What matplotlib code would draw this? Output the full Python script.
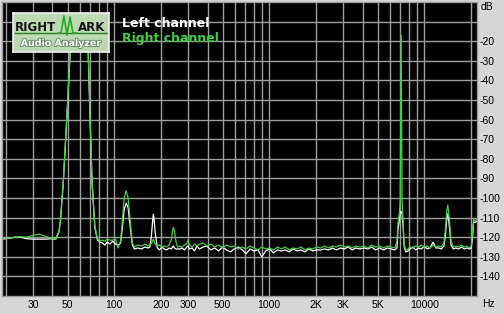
import matplotlib
matplotlib.use("Agg")
import matplotlib.pyplot as plt
import matplotlib.patheffects as pe

# frequency grid (Hz) shared by both channels, one row per stretch of the spectrum
freq = (
    [19, 21, 23, 25, 27.5, 30, 33, 36, 39, 42]
    + [44, 45, 47, 50, 52, 55, 58, 61, 64, 66]
    + [68, 70, 72, 75, 78, 81, 84, 87, 90, 94]
    + [98, 102, 106, 110, 113, 116, 119.5, 123, 127, 131]
    + [135, 142, 150, 158, 165, 170, 174, 177, 179, 181, 184]
    + [190, 196, 203, 210, 218, 226, 234, 238, 241, 245, 250, 256]
    + [265, 274, 284, 294, 300, 306, 318, 330, 342, 355]
    + [375, 397, 420, 445, 472, 500, 530, 562, 596, 632]
    + [670, 710, 752, 797, 845, 896, 950, 1007, 1067, 1131]
    + [1199, 1271, 1347, 1428, 1514, 1605, 1701, 1803, 1911, 2026]
    + [2148, 2277, 2414, 2559, 2713, 2876, 3049, 3232, 3426, 3632]
    + [3850, 4081, 4326, 4586, 4861, 5153, 5462, 5790, 6138, 6470]
    + [6670, 6770, 6900, 7000, 7100, 7200, 7300, 7430, 7600, 7850]
    + [8100, 8450, 8800, 9200, 9600, 10000, 10450, 10900, 11400, 11900]
    + [12400, 12900, 13400, 13700, 14000, 14200, 14500, 14900, 15400, 16000]
    + [16700, 17400, 18100, 18800, 19500, 20100, 20500, 20800, 21200, 21700]
    + [22200, 22800]
)

right_db = (
    [-121, -120.5, -120, -119.8, -120, -119, -118.5, -119.5, -120.5, -121]
    + [-117, -111, -91, -52, -25, -13, -9, -9, -12, -16]
    + [-25, -60, -91, -114, -121, -122, -121.5, -122, -121, -121.5]
    + [-121.5, -121, -125.5, -122, -111, -100, -96.3, -100, -112, -123]
    + [-125, -124, -124.5, -123.5, -124.5, -124, -123, -122, -121, -122, -123.5]
    + [-124.5, -124, -125, -124.5, -125, -124, -121, -117, -115, -117, -122, -125]
    + [-124.5, -125, -124, -123, -121.5, -124, -125, -123.5, -124.5, -123.5]
    + [-123, -124.5, -123.5, -125, -124, -125.5, -124, -125, -124.5, -126]
    + [-125, -126, -124.5, -125.5, -126.5, -125, -126, -125.5, -126.5, -125]
    + [-126, -125, -126.5, -125.5, -126, -125, -126.5, -125.5, -126, -125]
    + [-125.5, -124.5, -125.5, -124.5, -125, -124, -125, -124.5, -125.5, -124.5]
    + [-125, -124.5, -125.5, -124, -125, -124.5, -125.5, -124.5, -125, -125.5]
    + [-122, -113, -108, -101, -17, -102, -112, -124, -126.5, -126]
    + [-125, -125.5, -124.5, -125, -124, -125, -124.5, -125.5, -124, -125]
    + [-124.5, -125, -123, -116, -106, -103.6, -110, -122, -125, -124.5]
    + [-125, -124, -125, -124.5, -125.5, -124.5, -118, -111, -111.5, -111]
    + [-111.5, -112]
)

left_db = (
    [-121, -120.5, -120, -120, -120.8, -121, -121, -121, -120.8, -121]
    + [-117.5, -112, -92, -53, -26, -14, -10, -10, -13, -17]
    + [-26, -61, -92, -115, -121.5, -122.5, -123, -124, -122.5, -123.5]
    + [-122, -123.5, -124, -123, -115, -106, -102.6, -105, -115, -124]
    + [-126, -125.5, -126, -125, -125.5, -125, -119, -112, -108.3, -111, -118]
    + [-125.5, -126.5, -125, -126, -126.5, -125.5, -126, -125, -124.5, -125.5, -126, -126]
    + [-126, -125.5, -126.5, -125, -124.5, -126, -125.5, -127, -124.5, -126]
    + [-125, -124.5, -126.5, -125.5, -127, -125, -126.5, -127.5, -126, -125]
    + [-126.5, -128.5, -126, -127, -126.5, -130, -127, -126, -128, -126.5]
    + [-127, -126.5, -127.5, -126, -127, -126.5, -127.5, -126, -127, -126.5]
    + [-126.5, -126, -126.5, -125.5, -126.5, -125.5, -126, -125, -126.5, -125.5]
    + [-126, -125.5, -126, -125, -126.5, -125.5, -126.5, -125.5, -126, -126.5]
    + [-125.5, -116, -112, -107, -107, -108, -114, -125, -127.5, -127]
    + [-126, -125, -126.5, -125.5, -126, -124.5, -126, -125.5, -122.5, -125.5]
    + [-125.5, -126, -124.5, -119, -110, -108, -114, -124, -126, -125.5]
    + [-126, -125, -126, -125.5, -126, -125.5, -120, -112, -112.5, -112]
    + [-112, -112.5]
)

x_major = [30, 50, 100, 200, 300, 500, 1000, 2000, 3000, 5000, 10000]
x_labels = ["30", "50", "100", "200", "300", "500", "1000", "2K", "3K", "5K", "10000"]
x_minor = [20, 40, 60, 70, 80, 90, 400, 600, 700, 800, 900,
           4000, 6000, 7000, 8000, 9000, 20000]
y_ticks = [-140, -130, -120, -110, -100, -90, -80, -70, -60, -50, -40, -30, -20, -10]

W, H = 504, 314
BG = "#d6d6d6"
GRID = "#9c9c9c"
GREEN = "#3fd03f"
TICK_FONT = "Liberation Sans"

fig = plt.figure(figsize=(W / 100, H / 100), dpi=100, facecolor=BG)
ax = fig.add_axes([2 / W, 1 - 296 / H, 475 / W, 294 / H], facecolor="black")

ax.set_xscale("log")
ax.set_xlim(18.9, 21900)
ax.set_ylim(-150, 0)

ax.set_xticks(x_major)
ax.set_xticklabels(x_labels)
ax.set_xticks(x_minor, minor=True)
ax.set_xticklabels([], minor=True)
ax.set_yticks(y_ticks)
ax.set_yticklabels(["" if v == -10 else str(v) for v in y_ticks])
ax.yaxis.tick_right()

ax.tick_params(axis="both", which="both", length=0, labelsize=7.5)
ax.tick_params(axis="x", pad=3)
ax.tick_params(axis="y", pad=2)
for lab in ax.get_xticklabels() + ax.get_yticklabels():
    lab.set_family(TICK_FONT)

ax.grid(True, which="both", color=GRID, linewidth=1.0)
ax.set_axisbelow(True)
for s in ax.spines.values():
    s.set_color(GRID)
    s.set_linewidth(1.0)

ax.plot(freq, left_db, color="white", linewidth=0.9)
ax.plot(freq, right_db, color=GREEN, linewidth=0.9)

fig.text(481 / W, 1 - 7 / H, "dB", fontsize=7.5, family=TICK_FONT, va="center", ha="left")
fig.text(488 / W, 1 - 304 / H, "Hz", fontsize=7.5, family=TICK_FONT, va="center", ha="center")

# legend text
fig.text(122 / W, 1 - 26.7 / H, "Left channel", color="white", fontsize=9, fontweight="bold",
         va="baseline", ha="left")
fig.text(122 / W, 1 - 41.7 / H, "Right channel", color=GREEN, fontsize=9, fontweight="bold",
         va="baseline", ha="left")

# RightMark logo
lx0, ly0, lx1, ly1 = 13, 13, 109, 52
logo = fig.add_axes([lx0 / W, 1 - ly1 / H, (lx1 - lx0) / W, (ly1 - ly0) / H], facecolor="#bcd9b3")
logo.set_xlim(lx0, lx1)
logo.set_ylim(ly1, ly0)
logo.set_xticks([])
logo.set_yticks([])
for s in logo.spines.values():
    s.set_color("#f0f0f0")
    s.set_linewidth(1.2)
logo.text(15, 31, "RIGHT", fontsize=8.5, fontweight="bold", color="#151515", va="baseline")
logo.text(78, 31, "ARK", fontsize=8.5, fontweight="bold", color="#151515", va="baseline")
logo.plot([15, 107], [33, 33], color="#2e7d2e", linewidth=1.0)
logo.plot([58, 61, 64, 67, 70, 73, 77], [33, 33, 16, 35, 17, 33, 33], color="#1fae1f", linewidth=1.2)
logo.text(61, 43.5, "Audio Analyzer", fontsize=6.8, fontweight="bold", color="white",
          va="center", ha="center",
          path_effects=[pe.withStroke(linewidth=1.4, foreground="#6d8f69")])

fig.savefig("out.png", dpi=100, facecolor=BG)
